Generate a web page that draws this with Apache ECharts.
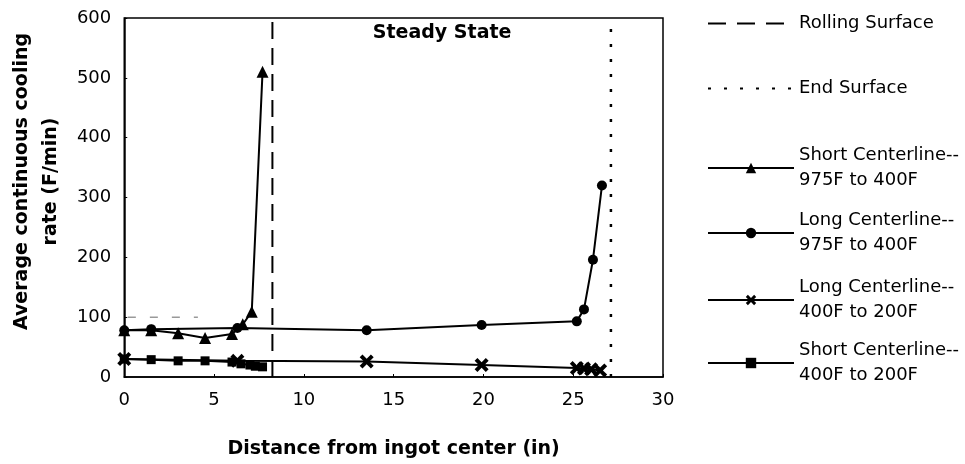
<!DOCTYPE html>
<html>
<head>
<meta charset="utf-8">
<script src="https://cdn.jsdelivr.net/npm/echarts@6/dist/echarts.min.js"></script>
<style>
html,body{margin:0;padding:0;background:#fff;}
#chart{width:965px;height:464px;}
</style>
</head>
<body>
<div id="chart"></div>
<script>
// ---- Data ----
const xTicks = [0, 5, 10, 15, 20, 25, 30];
const yTicks = [0, 100, 200, 300, 400, 500, 600];

const shortHigh = [[0, 78], [1.5, 78], [3, 73], [4.5, 65], [6, 72], [6.6, 88], [7.1, 109], [7.7, 510]];
const longHigh  = [[0, 78], [1.5, 80], [6.3, 82], [13.5, 78], [19.9, 87], [25.2, 93], [25.6, 113], [26.1, 196], [26.6, 320]];
const longLow   = [[0, 30], [6.3, 27], [13.5, 26], [19.9, 20], [25.2, 15], [25.6, 14], [26.0, 13], [26.5, 11]];
const shortLow  = [[0, 30], [1.5, 29], [3, 27], [4.5, 27], [6, 25], [6.5, 22], [7.0, 20], [7.3, 18], [7.7, 17]];

const rollingX = 8.25;
const endX = 27.1;
const faintLine = [[0.2, 100], [4.1, 100]];
const steadyLabel = [[17.7, 575]];

const names = [
  'Rolling Surface',
  'End Surface',
  'Short Centerline--\n975F to 400F',
  'Long Centerline--\n975F to 400F',
  'Long Centerline--\n400F to 200F',
  'Short Centerline--\n400F to 200F'
];
const legendTops = [11, 76, 143, 208, 275, 338];

const FONT = '"DejaVu Sans", "Liberation Sans", Arial, sans-serif';
const crossPath = 'path://M0,2L2,0L5,3L8,0L10,2L7,5L10,8L8,10L5,7L2,10L0,8L3,5Z';

const chart = echarts.init(document.getElementById('chart'));
const lineStyleBlack = {color: '#000', width: 2};
const legendLine = [{type: [18, 11]}, {type: [3, 13]}];

chart.setOption({
  animation: false,
  backgroundColor: '#fff',
  textStyle: {fontFamily: FONT, color: '#000'},
  grid: {left: 123, right: 302, top: 18, bottom: 86, show: true, borderColor: '#000', borderWidth: 1.5, backgroundColor: 'transparent'},
  xAxis: {
    type: 'value', min: xTicks[0], max: xTicks[xTicks.length - 1], interval: 5,
    name: 'Distance from ingot center (in)', nameLocation: 'middle', nameGap: 63,
    nameTextStyle: {fontFamily: FONT, fontWeight: 'bold', fontSize: 19, color: '#000'},
    axisLine: {show: true, lineStyle: {color: '#000', width: 1.5}},
    axisTick: {show: true, inside: true, length: 3, lineStyle: {color: '#000'}},
    axisLabel: {fontFamily: FONT, fontSize: 18, color: '#000', margin: 14},
    splitLine: {show: false}
  },
  yAxis: {
    type: 'value', min: yTicks[0], max: yTicks[yTicks.length - 1], interval: 100,
    name: 'Average continuous cooling\nrate (F/min)', nameLocation: 'middle', nameGap: 46,
    nameTextStyle: {fontFamily: FONT, fontWeight: 'bold', fontSize: 19, color: '#000', lineHeight: 29, padding: [0, 0, 0, 32]},
    axisLine: {show: true, lineStyle: {color: '#000', width: 1.5}},
    axisTick: {show: true, inside: true, length: 3, lineStyle: {color: '#000'}},
    axisLabel: {fontFamily: FONT, fontSize: 18, color: '#000', margin: 13},
    splitLine: {show: false}
  },
  legend: names.map((n, i) => {
    const lg = {
      data: [n], orient: 'vertical', left: 707, top: legendTops[i], padding: 0,
      itemWidth: 86, itemHeight: 13, itemGap: 0,
      textStyle: {fontFamily: FONT, fontSize: 18, color: '#000', lineHeight: 25},
      selectedMode: false
    };
    if (i < 2) { lg.itemStyle = {opacity: 0}; lg.lineStyle = legendLine[i]; }
    return lg;
  }),
  series: [
    {name: names[0], type: 'line', data: [[rollingX, yTicks[0]], [rollingX, yTicks[yTicks.length - 1]]],
     symbol: 'none', lineStyle: {color: '#000', width: 2, type: [17, 9]}, itemStyle: {color: '#000'}, z: 1},
    {name: names[1], type: 'line', data: [[endX, yTicks[0]], [endX, yTicks[yTicks.length - 1]]],
     symbol: 'none', lineStyle: {color: '#000', width: 2.5, type: [3, 12]}, itemStyle: {color: '#000'}, z: 1},
    {name: names[2], type: 'line', data: shortHigh, symbol: 'triangle', symbolSize: 12,
     lineStyle: lineStyleBlack, itemStyle: {color: '#000'}},
    {name: names[3], type: 'line', data: longHigh, symbol: 'circle', symbolSize: 10,
     lineStyle: lineStyleBlack, itemStyle: {color: '#000'}},
    {name: names[4], type: 'line', data: longLow, symbol: crossPath, symbolSize: 14,
     lineStyle: lineStyleBlack, itemStyle: {color: '#000'}},
    {name: names[5], type: 'line', data: shortLow, symbol: 'rect', symbolSize: 9,
     lineStyle: lineStyleBlack, itemStyle: {color: '#000'}},
    {name: 'faint', type: 'line', data: faintLine, symbol: 'none', silent: true,
     lineStyle: {color: '#999', width: 1.5, type: [8, 14]}, z: 0},
    {name: 'steady', type: 'scatter', data: steadyLabel, symbolSize: 0, silent: true,
     itemStyle: {opacity: 1, color: '#000'},
     label: {show: true, position: 'inside', formatter: 'Steady State', fontFamily: FONT, fontWeight: 'bold', fontSize: 19, color: '#000', opacity: 1}}
  ]
});
</script>
</body>
</html>
